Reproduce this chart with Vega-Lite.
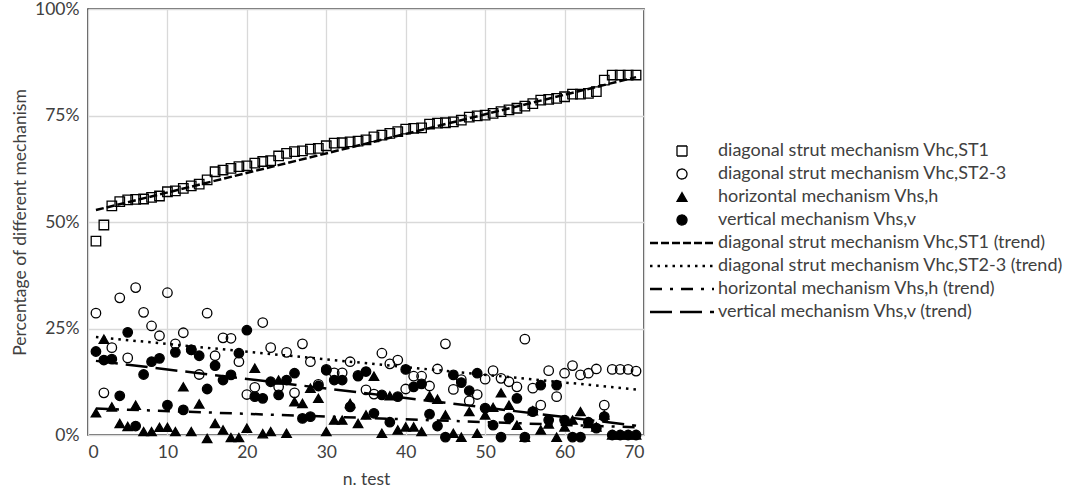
{
"$schema":"https://vega.github.io/schema/vega-lite/v6.json",
"width":556,"height":426,
"autosize":{"type":"none"},
"padding":{"left":88,"top":9,"right":427,"bottom":67},
"background":"white",
"config":{
 "view":{"stroke":"#333333","strokeWidth":1.6},
 "font":"Lato",
 "axis":{"ticks":false,"domain":false,"grid":true,"gridColor":"#d9d9d9","gridWidth":1.3,"labelFont":"Lato","labelFontSize":17.5,"labelColor":"#404040","titleFont":"Lato","titleFontSize":17.5,"titleFontWeight":"normal","titleColor":"#404040"},
 "legend":{"labelFont":"Lato","labelFontSize":18,"labelColor":"#404040","padding":0,"rowPadding":5,"symbolSize":100,"symbolStrokeColor":"black","symbolStrokeWidth":1.3,"labelLimit":500}
},
"datasets":{
"pts":[
{"n":1,"p":45.5,"s":"ST1"},{"n":2,"p":49.3,"s":"ST1"},{"n":3,"p":53.8,"s":"ST1"},{"n":4,"p":54.8,"s":"ST1"},{"n":5,"p":55.2,"s":"ST1"},{"n":6,"p":55.3,"s":"ST1"},{"n":7,"p":55.4,"s":"ST1"},{"n":8,"p":55.8,"s":"ST1"},{"n":9,"p":56.1,"s":"ST1"},{"n":10,"p":57.1,"s":"ST1"},
{"n":11,"p":57.3,"s":"ST1"},{"n":12,"p":57.9,"s":"ST1"},{"n":13,"p":58.5,"s":"ST1"},{"n":14,"p":58.9,"s":"ST1"},{"n":15,"p":59.9,"s":"ST1"},{"n":16,"p":61.8,"s":"ST1"},{"n":17,"p":62.2,"s":"ST1"},{"n":18,"p":62.6,"s":"ST1"},{"n":19,"p":63.0,"s":"ST1"},{"n":20,"p":63.2,"s":"ST1"},
{"n":21,"p":63.8,"s":"ST1"},{"n":22,"p":64.2,"s":"ST1"},{"n":23,"p":64.4,"s":"ST1"},{"n":24,"p":65.5,"s":"ST1"},{"n":25,"p":66.1,"s":"ST1"},{"n":26,"p":66.5,"s":"ST1"},{"n":27,"p":66.7,"s":"ST1"},{"n":28,"p":67.1,"s":"ST1"},{"n":29,"p":67.3,"s":"ST1"},{"n":30,"p":67.9,"s":"ST1"},
{"n":31,"p":68.5,"s":"ST1"},{"n":32,"p":68.6,"s":"ST1"},{"n":33,"p":68.8,"s":"ST1"},{"n":34,"p":69.0,"s":"ST1"},{"n":35,"p":69.3,"s":"ST1"},{"n":36,"p":70.0,"s":"ST1"},{"n":37,"p":70.4,"s":"ST1"},{"n":38,"p":70.8,"s":"ST1"},{"n":39,"p":71.2,"s":"ST1"},{"n":40,"p":71.8,"s":"ST1"},
{"n":41,"p":72.0,"s":"ST1"},{"n":42,"p":72.1,"s":"ST1"},{"n":43,"p":73.0,"s":"ST1"},{"n":44,"p":73.2,"s":"ST1"},{"n":45,"p":73.3,"s":"ST1"},{"n":46,"p":73.5,"s":"ST1"},{"n":47,"p":73.9,"s":"ST1"},{"n":48,"p":74.6,"s":"ST1"},{"n":49,"p":74.9,"s":"ST1"},{"n":50,"p":75.1,"s":"ST1"},
{"n":51,"p":75.5,"s":"ST1"},{"n":52,"p":75.9,"s":"ST1"},{"n":53,"p":76.3,"s":"ST1"},{"n":54,"p":76.7,"s":"ST1"},{"n":55,"p":77.2,"s":"ST1"},{"n":56,"p":77.8,"s":"ST1"},{"n":57,"p":78.6,"s":"ST1"},{"n":58,"p":78.8,"s":"ST1"},{"n":59,"p":79.0,"s":"ST1"},{"n":60,"p":79.4,"s":"ST1"},
{"n":61,"p":80.0,"s":"ST1"},{"n":62,"p":80.0,"s":"ST1"},{"n":63,"p":80.2,"s":"ST1"},{"n":64,"p":80.6,"s":"ST1"},{"n":65,"p":83.3,"s":"ST1"},{"n":66,"p":84.5,"s":"ST1"},{"n":67,"p":84.5,"s":"ST1"},{"n":68,"p":84.5,"s":"ST1"},{"n":69,"p":84.5,"s":"ST1"},
{"n":1,"p":28.6,"s":"ST2-3"},{"n":2,"p":9.9,"s":"ST2-3"},{"n":3,"p":20.5,"s":"ST2-3"},{"n":4,"p":32.2,"s":"ST2-3"},{"n":5,"p":18.1,"s":"ST2-3"},{"n":6,"p":34.6,"s":"ST2-3"},{"n":7,"p":28.8,"s":"ST2-3"},{"n":8,"p":25.6,"s":"ST2-3"},{"n":9,"p":23.3,"s":"ST2-3"},{"n":10,"p":33.4,"s":"ST2-3"},
{"n":11,"p":21.4,"s":"ST2-3"},{"n":12,"p":24.0,"s":"ST2-3"},{"n":13,"p":20.0,"s":"ST2-3"},{"n":14,"p":14.2,"s":"ST2-3"},{"n":15,"p":28.6,"s":"ST2-3"},{"n":16,"p":18.6,"s":"ST2-3"},{"n":17,"p":22.8,"s":"ST2-3"},{"n":18,"p":22.7,"s":"ST2-3"},{"n":19,"p":17.2,"s":"ST2-3"},{"n":20,"p":9.5,"s":"ST2-3"},
{"n":21,"p":11.2,"s":"ST2-3"},{"n":22,"p":26.4,"s":"ST2-3"},{"n":23,"p":20.5,"s":"ST2-3"},{"n":24,"p":11.3,"s":"ST2-3"},{"n":25,"p":19.4,"s":"ST2-3"},{"n":26,"p":9.9,"s":"ST2-3"},{"n":27,"p":21.4,"s":"ST2-3"},{"n":28,"p":17.2,"s":"ST2-3"},{"n":29,"p":11.9,"s":"ST2-3"},{"n":30,"p":15.4,"s":"ST2-3"},
{"n":31,"p":14.6,"s":"ST2-3"},{"n":32,"p":14.6,"s":"ST2-3"},{"n":33,"p":17.2,"s":"ST2-3"},{"n":34,"p":14.0,"s":"ST2-3"},{"n":35,"p":10.6,"s":"ST2-3"},{"n":36,"p":9.6,"s":"ST2-3"},{"n":37,"p":19.2,"s":"ST2-3"},{"n":38,"p":16.7,"s":"ST2-3"},{"n":39,"p":17.6,"s":"ST2-3"},{"n":40,"p":10.8,"s":"ST2-3"},
{"n":41,"p":13.8,"s":"ST2-3"},{"n":42,"p":13.8,"s":"ST2-3"},{"n":43,"p":11.5,"s":"ST2-3"},{"n":44,"p":15.5,"s":"ST2-3"},{"n":45,"p":21.4,"s":"ST2-3"},{"n":46,"p":10.7,"s":"ST2-3"},{"n":47,"p":13.0,"s":"ST2-3"},{"n":48,"p":8.0,"s":"ST2-3"},{"n":49,"p":9.5,"s":"ST2-3"},{"n":50,"p":13.1,"s":"ST2-3"},
{"n":51,"p":15.1,"s":"ST2-3"},{"n":52,"p":13.3,"s":"ST2-3"},{"n":53,"p":12.5,"s":"ST2-3"},{"n":54,"p":11.3,"s":"ST2-3"},{"n":55,"p":22.5,"s":"ST2-3"},{"n":56,"p":11.0,"s":"ST2-3"},{"n":57,"p":7.0,"s":"ST2-3"},{"n":58,"p":15.1,"s":"ST2-3"},{"n":59,"p":9.0,"s":"ST2-3"},{"n":60,"p":14.5,"s":"ST2-3"},
{"n":61,"p":16.3,"s":"ST2-3"},{"n":62,"p":14.1,"s":"ST2-3"},{"n":63,"p":14.5,"s":"ST2-3"},{"n":64,"p":15.5,"s":"ST2-3"},{"n":65,"p":7.0,"s":"ST2-3"},{"n":66,"p":15.4,"s":"ST2-3"},{"n":67,"p":15.4,"s":"ST2-3"},{"n":68,"p":15.4,"s":"ST2-3"},{"n":69,"p":15.0,"s":"ST2-3"},
{"n":1,"p":5.2,"s":"h"},{"n":2,"p":22.5,"s":"h"},{"n":3,"p":6.6,"s":"h"},{"n":4,"p":2.7,"s":"h"},{"n":5,"p":2.0,"s":"h"},{"n":6,"p":7.0,"s":"h"},{"n":7,"p":0.8,"s":"h"},{"n":8,"p":0.8,"s":"h"},{"n":9,"p":1.8,"s":"h"},{"n":10,"p":1.8,"s":"h"},
{"n":11,"p":0.8,"s":"h"},{"n":12,"p":11.3,"s":"h"},{"n":13,"p":0.8,"s":"h"},{"n":14,"p":7.3,"s":"h"},{"n":15,"p":-0.8,"s":"h"},{"n":16,"p":2.7,"s":"h"},{"n":17,"p":1.2,"s":"h"},{"n":18,"p":-0.6,"s":"h"},{"n":19,"p":-0.6,"s":"h"},{"n":20,"p":1.6,"s":"h"},
{"n":21,"p":15.7,"s":"h"},{"n":22,"p":0.3,"s":"h"},{"n":23,"p":0.8,"s":"h"},{"n":24,"p":12.9,"s":"h"},{"n":25,"p":0.4,"s":"h"},{"n":26,"p":7.8,"s":"h"},{"n":27,"p":7.4,"s":"h"},{"n":28,"p":11.0,"s":"h"},{"n":29,"p":8.6,"s":"h"},{"n":30,"p":0.8,"s":"h"},
{"n":31,"p":3.5,"s":"h"},{"n":32,"p":3.5,"s":"h"},{"n":33,"p":7.4,"s":"h"},{"n":34,"p":2.7,"s":"h"},{"n":35,"p":4.7,"s":"h"},{"n":36,"p":13.8,"s":"h"},{"n":37,"p":0.4,"s":"h"},{"n":38,"p":9.2,"s":"h"},{"n":39,"p":1.2,"s":"h"},{"n":40,"p":1.9,"s":"h"},
{"n":41,"p":1.9,"s":"h"},{"n":42,"p":0.8,"s":"h"},{"n":43,"p":9.2,"s":"h"},{"n":44,"p":8.4,"s":"h"},{"n":45,"p":4.7,"s":"h"},{"n":46,"p":0.4,"s":"h"},{"n":47,"p":-0.5,"s":"h"},{"n":48,"p":5.5,"s":"h"},{"n":49,"p":0.4,"s":"h"},{"n":50,"p":4.7,"s":"h"},
{"n":51,"p":6.5,"s":"h"},{"n":52,"p":9.9,"s":"h"},{"n":53,"p":7.0,"s":"h"},{"n":54,"p":2.3,"s":"h"},{"n":55,"p":-0.5,"s":"h"},{"n":56,"p":5.7,"s":"h"},{"n":57,"p":1.2,"s":"h"},{"n":58,"p":2.6,"s":"h"},{"n":59,"p":-0.5,"s":"h"},{"n":60,"p":1.9,"s":"h"},
{"n":61,"p":3.5,"s":"h"},{"n":62,"p":5.5,"s":"h"},{"n":63,"p":2.7,"s":"h"},{"n":64,"p":1.9,"s":"h"},{"n":65,"p":4.7,"s":"h"},{"n":66,"p":0,"s":"h"},{"n":67,"p":0,"s":"h"},{"n":68,"p":0,"s":"h"},{"n":69,"p":0,"s":"h"},
{"n":1,"p":19.6,"s":"v"},{"n":2,"p":17.6,"s":"v"},{"n":3,"p":17.8,"s":"v"},{"n":4,"p":9.2,"s":"v"},{"n":5,"p":24.1,"s":"v"},{"n":6,"p":2.1,"s":"v"},{"n":7,"p":14.2,"s":"v"},{"n":8,"p":17.2,"s":"v"},{"n":9,"p":18.0,"s":"v"},{"n":10,"p":7.0,"s":"v"},
{"n":11,"p":19.4,"s":"v"},{"n":12,"p":5.9,"s":"v"},{"n":13,"p":20.0,"s":"v"},{"n":14,"p":18.6,"s":"v"},{"n":15,"p":10.8,"s":"v"},{"n":16,"p":16.3,"s":"v"},{"n":17,"p":12.9,"s":"v"},{"n":18,"p":14.1,"s":"v"},{"n":19,"p":19.2,"s":"v"},{"n":20,"p":24.6,"s":"v"},
{"n":21,"p":9.0,"s":"v"},{"n":22,"p":8.6,"s":"v"},{"n":23,"p":12.5,"s":"v"},{"n":24,"p":9.4,"s":"v"},{"n":25,"p":12.9,"s":"v"},{"n":26,"p":14.5,"s":"v"},{"n":27,"p":3.9,"s":"v"},{"n":28,"p":4.3,"s":"v"},{"n":29,"p":11.5,"s":"v"},{"n":30,"p":15.2,"s":"v"},
{"n":31,"p":12.9,"s":"v"},{"n":32,"p":12.9,"s":"v"},{"n":33,"p":6.6,"s":"v"},{"n":34,"p":13.8,"s":"v"},{"n":35,"p":14.9,"s":"v"},{"n":36,"p":5.1,"s":"v"},{"n":37,"p":9.4,"s":"v"},{"n":38,"p":3.0,"s":"v"},{"n":39,"p":9.0,"s":"v"},{"n":40,"p":15.4,"s":"v"},
{"n":41,"p":11.3,"s":"v"},{"n":42,"p":12.0,"s":"v"},{"n":43,"p":4.9,"s":"v"},{"n":44,"p":2.1,"s":"v"},{"n":45,"p":-0.5,"s":"v"},{"n":46,"p":14.1,"s":"v"},{"n":47,"p":12.3,"s":"v"},{"n":48,"p":10.4,"s":"v"},{"n":49,"p":14.5,"s":"v"},{"n":50,"p":6.3,"s":"v"},
{"n":51,"p":2.3,"s":"v"},{"n":52,"p":-0.5,"s":"v"},{"n":53,"p":4.0,"s":"v"},{"n":54,"p":8.6,"s":"v"},{"n":55,"p":-0.5,"s":"v"},{"n":56,"p":5.5,"s":"v"},{"n":57,"p":11.7,"s":"v"},{"n":58,"p":3.5,"s":"v"},{"n":59,"p":11.7,"s":"v"},{"n":60,"p":3.5,"s":"v"},
{"n":61,"p":-0.5,"s":"v"},{"n":62,"p":-0.5,"s":"v"},{"n":63,"p":3.0,"s":"v"},{"n":64,"p":1.6,"s":"v"},{"n":65,"p":4.3,"s":"v"},{"n":66,"p":0,"s":"v"},{"n":67,"p":0,"s":"v"},{"n":68,"p":0,"s":"v"},{"n":69,"p":0,"s":"v"}
],
"trend":[
{"n":1,"p":52.8,"s":"ST1 trend"},{"n":69,"p":84.0,"s":"ST1 trend"},
{"n":1,"p":23.0,"s":"ST2-3 trend"},{"n":69,"p":10.7,"s":"ST2-3 trend"},
{"n":1,"p":6.2,"s":"h trend"},{"n":69,"p":1.8,"s":"h trend"},
{"n":1,"p":17.4,"s":"v trend"},{"n":69,"p":2.2,"s":"v trend"}
]
},
"layer":[
{"data":{"name":"pts"},
 "mark":{"type":"point","stroke":"black","strokeWidth":1.3,"size":90,"opacity":1},
 "encoding":{
  "x":{"field":"n","type":"quantitative","scale":{"domain":[0,70],"nice":false},"axis":{"values":[0,10,20,30,40,50,60,70],"title":"n. test","labelPadding":8,"titlePadding":10}},
  "y":{"field":"p","type":"quantitative","scale":{"domain":[0,100],"nice":false},"axis":{"values":[0,25,50,75,100],"labelExpr":"datum.value + '%'","title":"Percentage of different mechanism","labelPadding":9,"titlePadding":5}},
  "shape":{"field":"s","type":"nominal",
   "scale":{"domain":["ST1","ST2-3","h","v","ST1 trend","ST2-3 trend","h trend","v trend"],"range":["square","circle","triangle-up","circle","M-6.4,0H6.4","M-6.4,0H6.4","M-6.4,0H6.4","M-6.4,0H6.4"]},
   "legend":{"orient":"none","legendX":562,"legendY":133,"title":null,
    "labelExpr":"datum.label == 'ST1' ? 'diagonal strut mechanism Vhc,ST1' : datum.label == 'ST2-3' ? 'diagonal strut mechanism Vhc,ST2-3' : datum.label == 'h' ? 'horizontal mechanism Vhs,h' : datum.label == 'v' ? 'vertical mechanism Vhs,v' : datum.label == 'ST1 trend' ? 'diagonal strut mechanism Vhc,ST1 (trend)' : datum.label == 'ST2-3 trend' ? 'diagonal strut mechanism Vhc,ST2-3 (trend)' : datum.label == 'h trend' ? 'horizontal mechanism Vhs,h (trend)' : 'vertical mechanism Vhs,v (trend)'",
    "encoding":{
     "symbols":{"x":{"value":32},"stroke":{"value":"black"},"strokeWidth":{"value":{"expr":"datum.index < 4 ? 1.3 : 2.5"}},"fill":{"value":{"expr":"datum.index == 2 || datum.index == 3 ? 'black' : 'transparent'"}},"strokeDash":{"value":{"expr":"datum.index == 4 ? [8,3] : datum.index == 5 ? [2.5,3.5] : datum.index == 6 ? [12,9,3,9] : datum.index == 7 ? [22,8] : [1,0]"}}},
     "labels":{"x":{"value":68}}
    }}},
  "fill":{"field":"s","type":"nominal","legend":null,
   "scale":{"domain":["ST1","ST2-3","h","v","ST1 trend","ST2-3 trend","h trend","v trend"],"range":["transparent","transparent","black","black","transparent","transparent","transparent","transparent"]}}
 }},
{"data":{"name":"trend"},
 "mark":{"type":"line","color":"black","strokeWidth":2.5},
 "encoding":{
  "x":{"field":"n","type":"quantitative"},
  "y":{"field":"p","type":"quantitative"},
  "strokeDash":{"field":"s","type":"nominal","legend":null,
   "scale":{"domain":["ST1","ST2-3","h","v","ST1 trend","ST2-3 trend","h trend","v trend"],"range":[[1,0],[1,0],[1,0],[1,0],[8,3],[2.5,5],[12,8,3,8],[22,8]]}}
 }}
]
}
